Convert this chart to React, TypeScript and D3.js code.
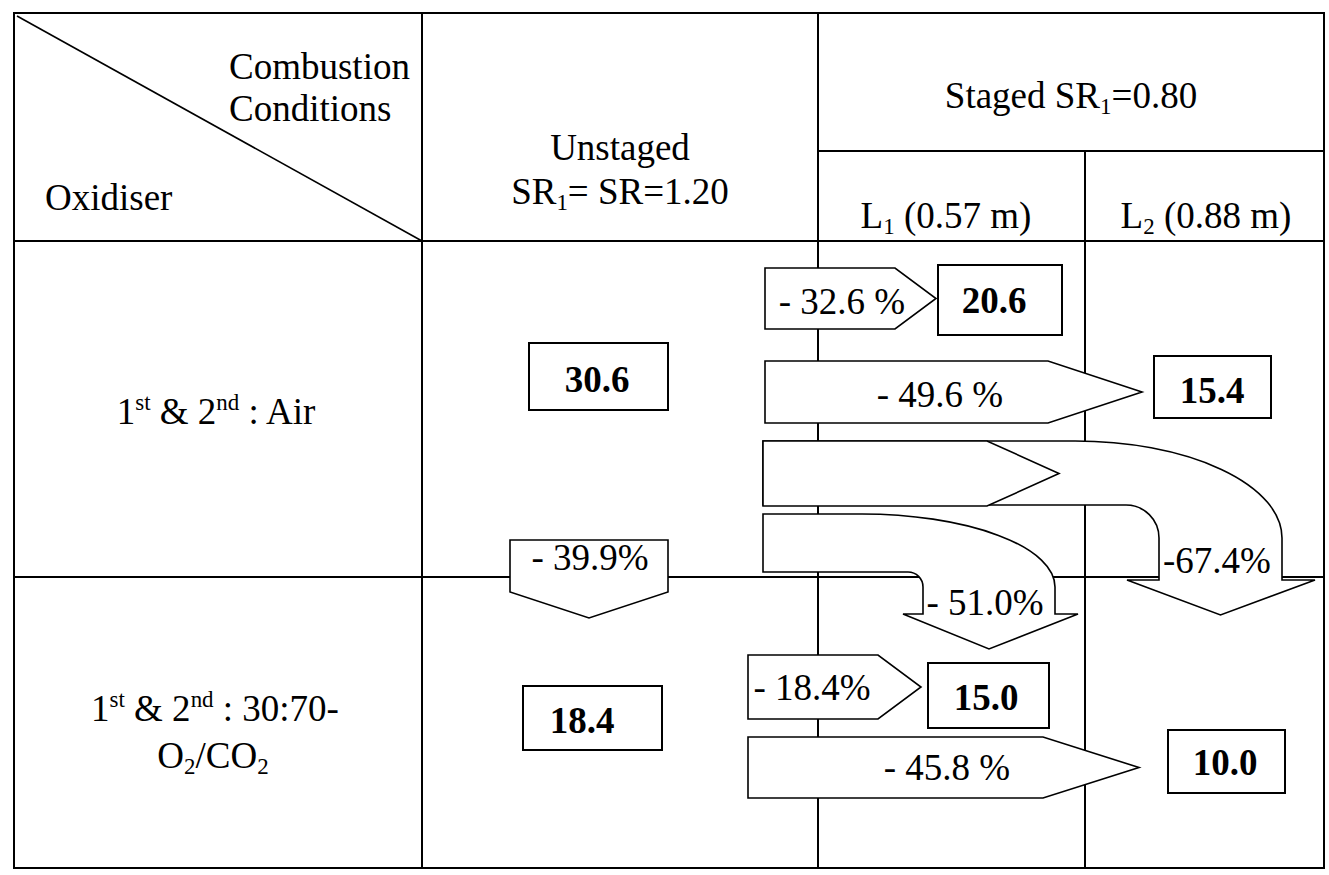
import React from "react";
import * as d3 from "d3";

// ---------- data ----------
const oxidisers = ["Air", "30:70-"];
const unstagedValues = [30.6, 18.4];
const l1Values = [20.6, 15.0];
const l2Values = [15.4, 10.0];
const l1ReductionLabels = ["- 32.6 %", "- 18.4%"];
const l2ReductionLabels = ["- 49.6 %", "- 45.8 %"];
const unstagedOxyLabel = "- 39.9%";
const crossL1Label = "- 51.0%";
const crossL2Label = "-67.4%";

// ---------- layout ----------
const W = 1329;
const H = 875;
const FONT = "'Liberation Serif', 'Times New Roman', serif";
const FS = 37;

const colX = d3.scaleOrdinal<string, number>()
  .domain(["left", "c1", "c2", "c3", "right"])
  .range([14, 422, 818, 1085, 1324]);
const rowY = d3.scaleOrdinal<string, number>()
  .domain(["top", "staged", "head", "row", "bottom"])
  .range([13, 151, 241, 577, 868]);

const fmt = d3.format(".1f");

function rightArrow(x0: number, xs: number, xt: number, y0: number, y1: number) {
  const p = d3.path();
  p.moveTo(x0, y0);
  p.lineTo(xs, y0);
  p.lineTo(xt, (y0 + y1) / 2);
  p.lineTo(xs, y1);
  p.lineTo(x0, y1);
  p.closePath();
  return p.toString();
}

function downArrow(x0: number, x1: number, y0: number, ys: number, yt: number) {
  const p = d3.path();
  p.moveTo(x0, y0);
  p.lineTo(x1, y0);
  p.lineTo(x1, ys);
  p.lineTo((x0 + x1) / 2, yt);
  p.lineTo(x0, ys);
  p.closePath();
  return p.toString();
}

function bentArrow(o: {
  x0: number; yTop: number; yBot: number; cx: number; rx: number; ry: number;
  stemIn: number; r: number; flareY: number; flareL: number; flareR: number; tipY: number;
}) {
  const stemOut = o.cx + o.rx;
  const cy = o.yTop + o.ry;
  const tipX = (o.stemIn + stemOut) / 2;
  return [
    `M${o.x0},${o.yTop}`,
    `L${o.cx},${o.yTop}`,
    `A${o.rx},${o.ry} 0 0 1 ${stemOut},${cy}`,
    `L${stemOut},${o.flareY}`,
    `L${o.flareR},${o.flareY}`,
    `L${tipX},${o.tipY}`,
    `L${o.flareL},${o.flareY}`,
    `L${o.stemIn},${o.flareY}`,
    `L${o.stemIn},${o.yBot + o.r}`,
    `A${o.r},${o.r} 0 0 0 ${o.stemIn - o.r},${o.yBot}`,
    `L${o.x0},${o.yBot}`,
    "Z",
  ].join(" ");
}

type Seg = [string, ("n" | "sub" | "sup")?];

function Rich(props: { x: number; y: number; anchor?: string; segs: Seg[] }) {
  let cur = 0;
  return (
    <text x={props.x} y={props.y} textAnchor={props.anchor || "middle"}
      fontFamily={FONT} fontSize={FS} fill="#000">
      {props.segs.map(([t, k], i) => {
        const target = k === "sub" ? 6 : k === "sup" ? -14 : 0;
        const dy = target - cur;
        cur = target;
        return (
          <tspan key={i} dy={dy} fontSize={k === "sub" || k === "sup" ? FS * 0.62 : FS}>{t}</tspan>
        );
      })}
    </text>
  );
}

function Txt(props: { x: number; y: number; anchor?: string; bold?: boolean; children: React.ReactNode }) {
  return (
    <text x={props.x} y={props.y} textAnchor={props.anchor || "middle"}
      fontFamily={FONT} fontSize={FS} fontWeight={props.bold ? "bold" : "normal"} fill="#000">
      {props.children}
    </text>
  );
}

function ValueBox(props: { x0: number; x1: number; y0: number; y1: number; tx: number; ty: number; v: number }) {
  return (
    <g>
      <rect x={props.x0} y={props.y0} width={props.x1 - props.x0} height={props.y1 - props.y0}
        fill="#fff" stroke="#000" strokeWidth={2} />
      <Txt x={props.tx} y={props.ty} bold>{fmt(props.v)}</Txt>
    </g>
  );
}

export default function App() {
  const L = colX("left"), C1 = colX("c1"), C2 = colX("c2"), C3 = colX("c3"), R = colX("right");
  const T = rowY("top"), ST = rowY("staged"), HD = rowY("head"), RW = rowY("row"), B = rowY("bottom");

  const arrowStyle = { fill: "#fff", stroke: "#000", strokeWidth: 1.6, strokeLinejoin: "miter" as const };

  return (
    <svg width={W} height={H} style={{ position: "absolute", left: 0, top: 0, background: "#fff" }}>
      <rect x={0} y={0} width={W} height={H} fill="#fff" />
      <g stroke="#000" strokeWidth={2} fill="none">
        <rect x={L} y={T} width={R - L} height={B - T} />
        <line x1={C1} y1={T} x2={C1} y2={B} />
        <line x1={C2} y1={T} x2={C2} y2={B} />
        <line x1={C3} y1={ST} x2={C3} y2={B} />
        <line x1={C2} y1={ST} x2={R} y2={ST} />
        <line x1={L} y1={HD} x2={R} y2={HD} />
        <line x1={L} y1={RW} x2={R} y2={RW} />
        <line x1={L + 3} y1={T + 3} x2={C1} y2={HD} strokeWidth={1.6} />
      </g>

      {/* header texts */}
      <Txt x={229} y={79} anchor="start">Combustion</Txt>
      <Txt x={229} y={121} anchor="start">Conditions</Txt>
      <Txt x={45} y={210} anchor="start">Oxidiser</Txt>
      <Txt x={(C1 + C2) / 2} y={160}>Unstaged</Txt>
      <Rich x={(C1 + C2) / 2} y={204} segs={[["SR"], ["1", "sub"], ["= SR=1.20"]]} />
      <Rich x={(C2 + R) / 2} y={108} segs={[["Staged SR"], ["1", "sub"], ["=0.80"]]} />
      <Rich x={946} y={228} segs={[["L"], ["1", "sub"], [" (0.57 m)"]]} />
      <Rich x={1206} y={228} segs={[["L"], ["2", "sub"], [" (0.88 m)"]]} />

      {/* row labels */}
      <Rich x={216} y={424} segs={[["1"], ["st", "sup"], [" & 2"], ["nd", "sup"], [" : " + oxidisers[0]]]} />
      <Rich x={215} y={721} segs={[["1"], ["st", "sup"], [" & 2"], ["nd", "sup"], [" : " + oxidisers[1]]]} />
      <Rich x={213} y={768} segs={[["O"], ["2", "sub"], ["/CO"], ["2", "sub"]]} />

      {/* unstaged values */}
      <ValueBox x0={529} x1={668} y0={343} y1={410} tx={597} ty={392} v={unstagedValues[0]} />
      <ValueBox x0={523} x1={662} y0={686} y1={750} tx={582} ty={733} v={unstagedValues[1]} />

      <path d={downArrow(510, 668, 540, 592, 618)} {...arrowStyle} />
      <Txt x={590} y={570}>{unstagedOxyLabel}</Txt>

      <path d={bentArrow({ x0: 763, yTop: 441, yBot: 505, cx: 1075, rx: 207, ry: 97, stemIn: 1159, r: 33, flareY: 580, flareL: 1127, flareR: 1315, tipY: 615 })} {...arrowStyle} />
      <Txt x={1217} y={573}>{crossL2Label}</Txt>

      <path d={rightArrow(763, 987, 1059, 441, 506)} {...arrowStyle} />

      <path d={bentArrow({ x0: 763, yTop: 514, yBot: 572, cx: 862, rx: 193, ry: 73, stemIn: 923, r: 15, flareY: 614, flareL: 903, flareR: 1078, tipY: 649 })} {...arrowStyle} />
      <Txt x={985} y={615}>{crossL1Label}</Txt>

      <path d={rightArrow(765, 895, 936, 268, 329)} {...arrowStyle} />
      <Txt x={842} y={314}>{l1ReductionLabels[0]}</Txt>
      <ValueBox x0={938} x1={1062} y0={265} y1={335} tx={994} ty={313} v={l1Values[0]} />

      <path d={rightArrow(765, 1048, 1142, 361, 423)} {...arrowStyle} />
      <Txt x={940} y={407}>{l2ReductionLabels[0]}</Txt>
      <ValueBox x0={1154} x1={1271} y0={356} y1={418} tx={1212} ty={403} v={l2Values[0]} />

      <path d={rightArrow(748, 878, 921, 655, 719)} {...arrowStyle} />
      <Txt x={812} y={700}>{l1ReductionLabels[1]}</Txt>
      <ValueBox x0={928} x1={1049} y0={663} y1={728} tx={986} ty={710} v={l1Values[1]} />

      <path d={rightArrow(748, 1043, 1139, 737, 798)} {...arrowStyle} />
      <Txt x={947} y={780}>{l2ReductionLabels[1]}</Txt>
      <ValueBox x0={1168} x1={1285} y0={730} y1={793} tx={1225} ty={775} v={l2Values[1]} />
    </svg>
  );
}
